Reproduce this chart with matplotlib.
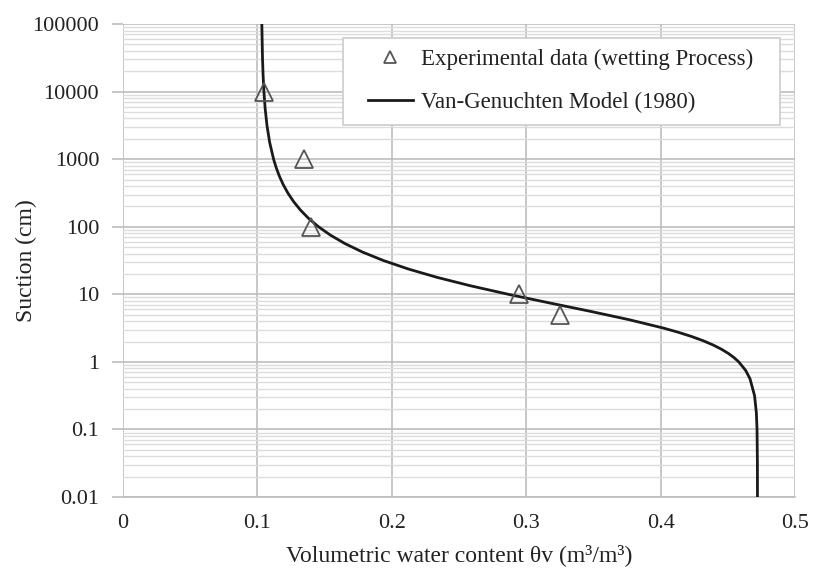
import matplotlib
matplotlib.use("Agg")
import matplotlib.pyplot as plt
from matplotlib.patches import Rectangle
from matplotlib.ticker import LogLocator, FixedLocator, NullFormatter

plt.rcParams['font.family'] = ['Liberation Serif', 'DejaVu Serif']

# Experimental data (wetting process)
exp_theta = [0.105, 0.135, 0.140, 0.295, 0.325]
exp_suction = [10000, 1000, 100, 10, 5]

# Van-Genuchten model curve
model_suction = [0.01, 0.0316, 0.1, 0.178, 0.316, 0.562, 0.75, 1.0, 1.155, 1.334,
                 1.54, 1.778, 2.054, 2.371, 2.738, 3.162, 4.217, 5.623, 7.499,
                 10.0, 13.34, 17.78, 23.71, 31.62, 42.17, 56.23, 74.99, 100.0,
                 133.4, 177.8, 237.1, 316.2, 421.7, 562.3, 749.9, 1000.0, 1778.0,
                 3162.0, 5623.0, 10000.0, 17780.0, 31620.0, 100000.0]
model_theta = [0.4720, 0.47195, 0.47168, 0.47117, 0.46985, 0.46647, 0.46319, 0.45811,
               0.45463, 0.45038, 0.44524, 0.43906, 0.43174, 0.42319, 0.41332, 0.40222,
               0.37653, 0.34740, 0.31682, 0.28682, 0.25891, 0.23398, 0.21235, 0.19389,
               0.17835, 0.16535, 0.15452, 0.14556, 0.13813, 0.13201, 0.12694, 0.12276,
               0.11930, 0.11645, 0.11410, 0.11216, 0.10923, 0.10724, 0.10589, 0.10497,
               0.10434, 0.10391, 0.10342]

x_ticks = [0, 0.1, 0.2, 0.3, 0.4, 0.5]
x_ticklabels = ["0", "0.1", "0.2", "0.3", "0.4", "0.5"]
y_ticks = [0.01, 0.1, 1, 10, 100, 1000, 10000, 100000]
y_ticklabels = ["0.01", "0.1", "1", "10", "100", "1000", "10000", "100000"]

fig = plt.figure(figsize=(8.13, 5.72), dpi=100)
ax = fig.add_axes([0.151, 0.131, 0.827, 0.827])

ax.set_yscale('log')
ax.set_xlim(0, 0.5)
ax.set_ylim(0.01, 100000)

ax.yaxis.set_major_locator(FixedLocator(y_ticks))
ax.set_yticklabels(y_ticklabels)
ax.yaxis.set_minor_locator(LogLocator(base=10, subs=range(2, 10), numticks=100))
ax.yaxis.set_minor_formatter(NullFormatter())
ax.set_xticks(x_ticks)
ax.set_xticklabels(x_ticklabels)

ax.grid(True, which='major', axis='both', color='#bdbdbd', linewidth=1.2)
ax.grid(True, which='minor', axis='y', color='#dcdcdc', linewidth=1.0)
ax.set_axisbelow(True)

for s in ['top', 'right', 'left']:
    ax.spines[s].set_visible(False)
ax.spines['bottom'].set_color('#bdbdbd')
ax.spines['bottom'].set_linewidth(1.2)

ax.tick_params(axis='y', which='major', length=8, width=1.2, color='#bdbdbd',
               labelsize=16, pad=9, labelcolor='#222222')
ax.tick_params(axis='y', which='minor', length=0)
ax.tick_params(axis='x', which='major', length=0, labelsize=16, pad=12,
               labelcolor='#222222')

ax.plot(model_theta, model_suction, color='#1a1a1a', linewidth=2.0,
        label='Van-Genuchten Model (1980)', zorder=3)
ax.plot(exp_theta, exp_suction, linestyle='none', marker='^', markersize=13,
        markerfacecolor='none', markeredgecolor='#555555', markeredgewidth=1.3,
        label='Experimental data (wetting Process)', zorder=4)

# legend box
box = Rectangle((0.3274, 0.7865), 0.650, 0.184, transform=ax.transAxes,
                facecolor='white', edgecolor='#cccccc', linewidth=1.2, zorder=4.5)
ax.add_patch(box)

handles, labels = ax.get_legend_handles_labels()
leg = ax.legend([handles[1], handles[0]], [labels[1], labels[0]],
                loc='center left', bbox_to_anchor=(0.3646, 0.8806),
                fontsize=16.5, frameon=False, borderpad=0, labelspacing=0.95,
                handlelength=1.96, handletextpad=0.35, markerscale=0.7,
                borderaxespad=0)
leg.set_zorder(5)
for t in leg.get_texts():
    t.set_color('#222222')

ax.set_xlabel('Volumetric water content θv (m³/m³)', fontsize=17, color='#222222',
              labelpad=8)
ax.set_ylabel('Suction (cm)', fontsize=17, color='#222222')
ax.yaxis.set_label_coords(-0.127, 0.5)

fig.savefig('out.png', dpi=100)
